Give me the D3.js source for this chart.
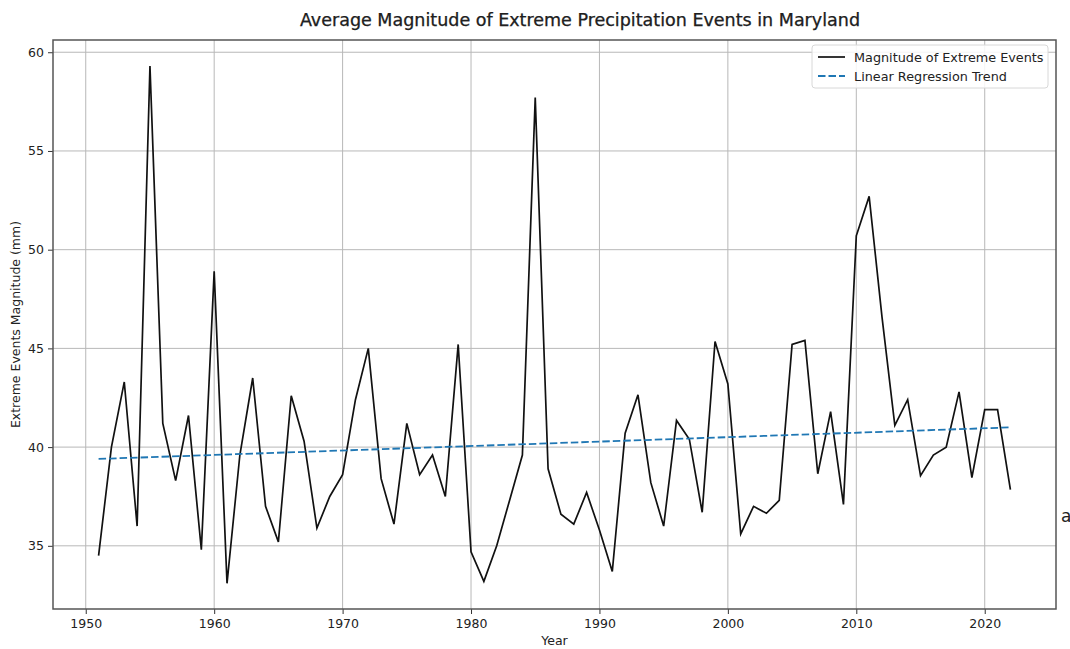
<!DOCTYPE html>
<html>
<head>
  <meta charset="utf-8">
  <style type="text/css">
    body { margin: 0; background: #fff; }
    text { font-family: "DejaVu Sans", sans-serif; fill: #222; }
  </style>
  <script src="https://d3js.org/d3.v7.min.js"></script>
</head>
<body>
  <div id="chart"></div>
  <script type="text/javascript">
    // values
    var years = d3.range(1951, 2023);
    var magnitude = [
      34.5, 40.0, 43.3, 36.0, 59.3, 41.2, 38.3, 41.6, 34.8, 48.9,
      33.1, 39.6, 43.5, 37.0, 35.2, 42.6, 40.3, 35.9, 37.5, 38.6,
      42.4, 45.0, 38.4, 36.1, 41.2, 38.6, 39.6, 37.5, 45.2, 34.7,
      33.2, 35.0, 37.3, 39.6, 57.7, 38.9, 36.6, 36.1, 37.7, 35.8,
      33.7, 40.7, 42.65, 38.2, 36.0, 41.35, 40.4, 36.7, 45.35, 43.2,
      35.6, 37.0, 36.65, 37.3, 45.2, 45.4, 38.65, 41.8, 37.1, 50.7,
      52.7, 46.6, 41.1, 42.4, 38.55, 39.6, 40.0, 42.8, 38.45, 41.9,
      41.9, 37.85
    ];
    var trendYears = [1951, 2022];
    var trendValues = [39.4, 41.0];
    var xTicks = [1950, 1960, 1970, 1980, 1990, 2000, 2010, 2020];
    var yTicks = [35, 40, 45, 50, 55, 60];
    var legendLabels = ["Magnitude of Extreme Events", "Linear Regression Trend"];

    function draw() {
      "use strict";
      var width = 1070, height = 649;
      var pLeft = 53, pRight = 1056, pTop = 40, pBottom = 609;

      var svg = d3.select("#chart").append("svg")
        .attr("width", width).attr("height", height);

      var x = d3.scaleLinear().domain([1947.45, 2025.55]).range([pLeft, pRight]);
      var y = d3.scaleLinear().domain([31.8, 60.62]).range([pBottom, pTop]);

      // grid
      svg.append("g").selectAll("line").data(xTicks).enter().append("line")
        .attr("x1", function(d) { return x(d); }).attr("x2", function(d) { return x(d); })
        .attr("y1", pTop).attr("y2", pBottom)
        .attr("stroke", "#b8b8b8").attr("stroke-width", 1);
      svg.append("g").selectAll("line").data(yTicks).enter().append("line")
        .attr("y1", function(d) { return y(d); }).attr("y2", function(d) { return y(d); })
        .attr("x1", pLeft).attr("x2", pRight)
        .attr("stroke", "#b8b8b8").attr("stroke-width", 1);

      // axes
      var xAxis = svg.append("g").attr("transform", "translate(0," + pBottom + ")")
        .call(d3.axisBottom(x).tickValues(xTicks).tickFormat(d3.format("d")).tickSize(5).tickPadding(5));
      var yAxis = svg.append("g").attr("transform", "translate(" + pLeft + ",0)")
        .call(d3.axisLeft(y).tickValues(yTicks).tickSize(5).tickPadding(4));
      [xAxis, yAxis].forEach(function(a) {
        a.select(".domain").remove();
        a.selectAll("line").attr("stroke", "#333");
        a.selectAll("text").style("font-family", "DejaVu Sans").style("font-size", "12.5px").attr("fill", "#222");
      });

      // data line
      var line = d3.line()
        .x(function(d, i) { return x(years[i]); })
        .y(function(d) { return y(d); });
      svg.append("path").datum(magnitude)
        .attr("d", line)
        .attr("fill", "none").attr("stroke", "#111").attr("stroke-width", 1.7)
        .attr("stroke-linejoin", "miter");

      var trend = d3.line()
        .x(function(d, i) { return x(trendYears[i]); })
        .y(function(d) { return y(d); });
      svg.append("path").datum(trendValues)
        .attr("d", trend)
        .attr("fill", "none").attr("stroke", "#1f77b4").attr("stroke-width", 1.8)
        .attr("stroke-dasharray", "7.5,3");

      // frame
      svg.append("rect")
        .attr("x", pLeft).attr("y", pTop).attr("width", pRight - pLeft).attr("height", pBottom - pTop)
        .attr("fill", "none").attr("stroke", "#555").attr("stroke-width", 1.5);

      // legend
      var lg = svg.append("g").attr("transform", "translate(812,45)");
      lg.append("rect").attr("width", 236).attr("height", 43).attr("rx", 3)
        .attr("fill", "#fff").attr("fill-opacity", 0.85).attr("stroke", "#d8d8d8");
      lg.append("line").attr("x1", 6).attr("x2", 33).attr("y1", 12).attr("y2", 12)
        .attr("stroke", "#111").attr("stroke-width", 1.7);
      lg.append("line").attr("x1", 6).attr("x2", 33).attr("y1", 31).attr("y2", 31)
        .attr("stroke", "#1f77b4").attr("stroke-width", 1.8).attr("stroke-dasharray", "7.5,3");
      lg.selectAll("text.lab").data(legendLabels).enter().append("text")
        .attr("class", "lab")
        .attr("x", 42).attr("y", function(d, i) { return 16.5 + i * 19; })
        .style("font-size", "12.8px")
        .text(function(d) { return d; });

      // labels
      svg.append("text").attr("x", (pLeft + pRight) / 2).attr("y", 645)
        .attr("text-anchor", "middle").style("font-size", "12.5px").text("Year");
      svg.append("text")
        .attr("transform", "translate(20," + ((pTop + pBottom) / 2) + ") rotate(-90)")
        .attr("text-anchor", "middle").style("font-size", "12.5px")
        .text("Extreme Events Magnitude (mm)");
      svg.append("text").attr("x", 580).attr("y", 26)
        .attr("text-anchor", "middle")
        .attr("textLength", 560).attr("lengthAdjust", "spacingAndGlyphs")
        .style("font-family", "'Liberation Sans Narrow', 'DejaVu Sans Condensed', sans-serif")
        .style("font-size", "17.5px").style("font-weight", "normal").attr("fill", "#111")
        .attr("stroke", "#111").attr("stroke-width", 0.25)
        .text("Average Magnitude of Extreme Precipitation Events in Maryland");

      // stray glyph at right edge
      svg.append("text").attr("x", 1061).attr("y", 522)
        .style("font-size", "17px").attr("fill", "#333").text("a");
    }

    draw();
  </script>
</body>
</html>
